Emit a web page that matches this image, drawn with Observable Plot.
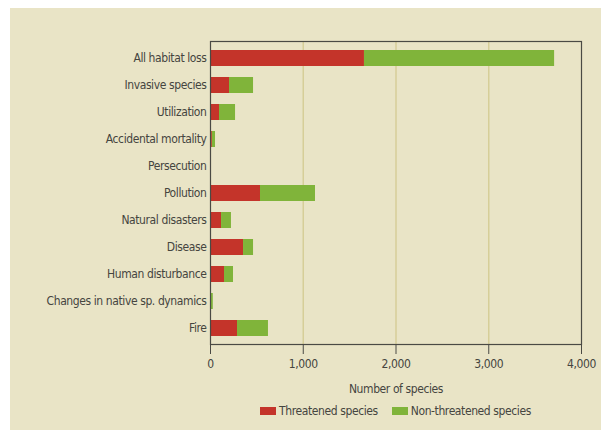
<!DOCTYPE html>
<html>
<head>
<meta charset="utf-8">
<script src="https://cdn.jsdelivr.net/npm/d3@7"></script>
<script src="https://cdn.jsdelivr.net/npm/@observablehq/plot@0.6"></script>
<style>
  html, body { margin: 0; padding: 0; background: #ffffff; width: 601px; height: 430px; overflow: hidden; }
  #panel { position: absolute; left: 10px; top: 8px; width: 591px; height: 422px; background: #e9e4c6;
    font-family: "DejaVu Sans Condensed", "DejaVu Sans", sans-serif; font-stretch: condensed; color: #45453f; }
  #chart svg, #chart svg text { font-stretch: condensed; letter-spacing: -0.4px; }
  #legend { position: absolute; top: 396px; left: 0; width: 591px; padding-left: 200px; box-sizing: border-box; padding-right: 20px;
    display: flex; justify-content: center; gap: 14px; font-size: 12px; letter-spacing: -0.4px; }
  .item { display: flex; align-items: center; gap: 3px; }
  .sw { width: 16px; height: 8px; display: inline-block; }
</style>
</head>
<body>
<div id="panel"><div id="chart"></div><div id="legend"></div></div>
<script>
const categories = ["All habitat loss", "Invasive species", "Utilization", "Accidental mortality", "Persecution",
  "Pollution", "Natural disasters", "Disease", "Human disturbance", "Changes in native sp. dynamics", "Fire"];
const threatened = [1660, 205, 97, 20, 0, 539, 119, 356, 151, 3, 291];
const nonThreatened = [2050, 259, 173, 34, 0, 593, 107, 108, 97, 27, 334];
const seriesNames = ["Threatened species", "Non-threatened species"];
const seriesColors = ["#c4342a", "#80b43a"];
const xTicks = [0, 1000, 2000, 3000, 4000];
const gridTicks = [1000, 2000, 3000];

const rows = [];
categories.forEach((c, i) => {
  rows.push({category: c, series: seriesNames[0], value: threatened[i]});
  rows.push({category: c, series: seriesNames[1], value: nonThreatened[i]});
});

const chart = Plot.plot({
  width: 591,
  height: 390,
  marginLeft: 200,
  marginRight: 20,
  marginTop: 33,
  marginBottom: 54,
  style: {background: "transparent", fontFamily: "\"DejaVu Sans Condensed\", \"DejaVu Sans\", sans-serif", fontSize: "12px", color: "#45453f"},
  x: {domain: [0, 4000], ticks: xTicks, tickFormat: d3.format(","), label: null},
  y: {domain: categories, paddingInner: 0.42, paddingOuter: 0.2, label: null},
  color: {domain: seriesNames, range: seriesColors},
  marks: [
    Plot.ruleX(gridTicks, {stroke: "#d6ce98", strokeWidth: 1.5}),
    Plot.barX(rows, Plot.stackX({y: "category", x: "value", fill: "series", order: seriesNames})),
    Plot.frame({stroke: "#4a4a44", strokeWidth: 1.2}),
    Plot.axisX({ticks: xTicks, tickSize: 10, tickPadding: 5, tickFormat: d3.format(","), stroke: "#4a4a44",
      fontSize: 12, label: "Number of species", labelAnchor: "center", labelArrow: "none", labelOffset: 48}),
    Plot.axisY({tickSize: 0, tickPadding: 4, fontSize: 12, label: null})
  ]
});
document.getElementById("chart").appendChild(chart);

const legend = document.getElementById("legend");
seriesNames.forEach((name, i) => {
  const item = document.createElement("div");
  item.className = "item";
  const sw = document.createElement("span");
  sw.className = "sw";
  sw.style.background = seriesColors[i];
  const t = document.createElement("span");
  t.textContent = name;
  item.appendChild(sw); item.appendChild(t);
  legend.appendChild(item);
});
</script>
</body>
</html>
